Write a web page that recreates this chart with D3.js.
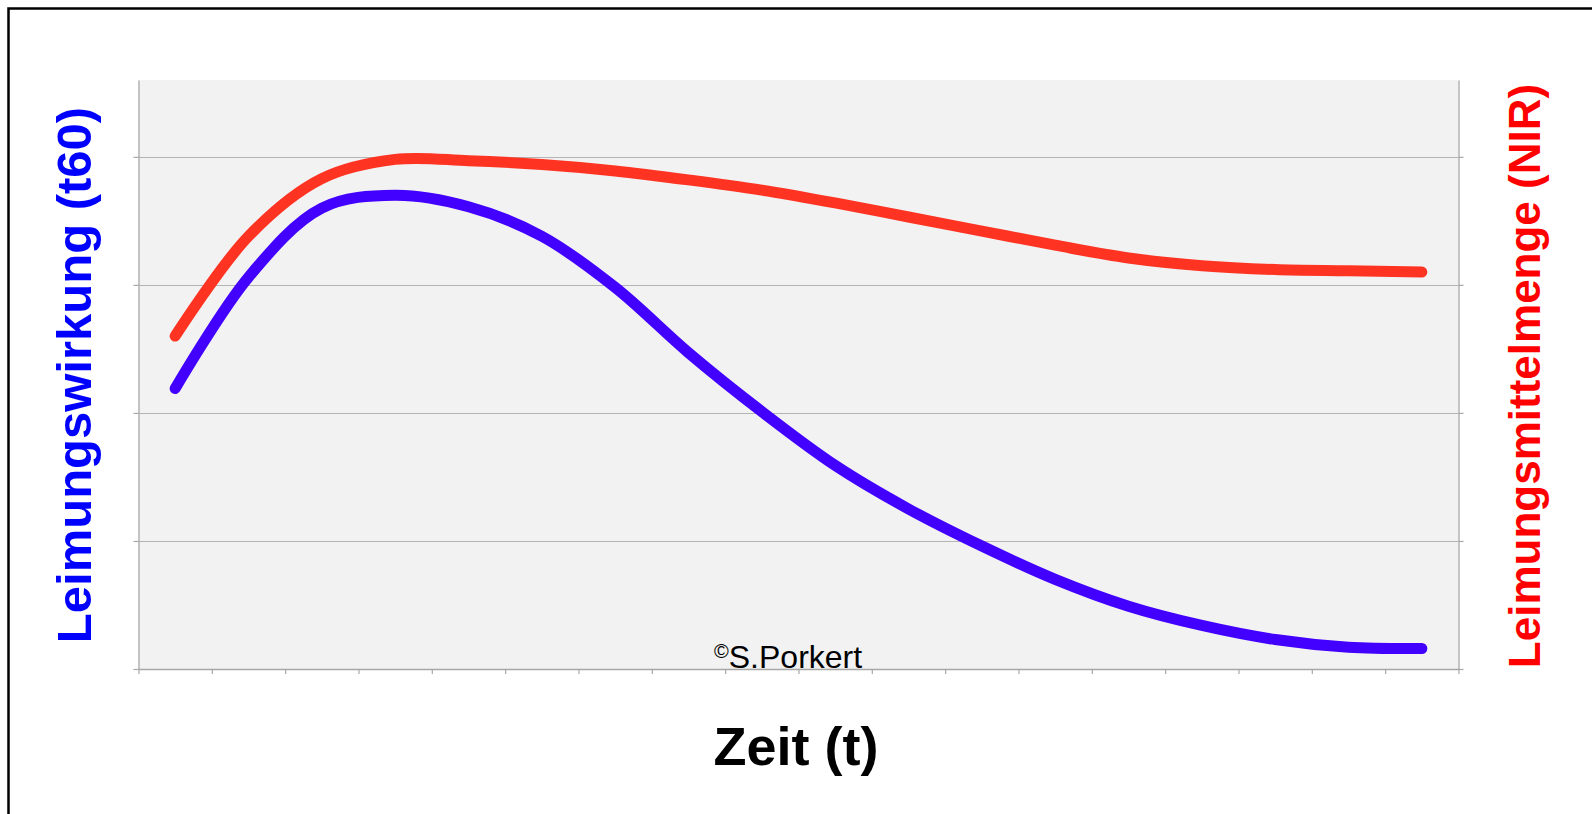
<!DOCTYPE html>
<html>
<head>
<meta charset="utf-8">
<script src="https://cdn.jsdelivr.net/npm/d3@7/dist/d3.min.js"></script>
<style>
  html, body { margin: 0; padding: 0; background: #fff; }
  svg { display: block; font-family: "Liberation Sans", Arial, sans-serif; }
</style>
</head>
<body>
<svg id="chart" width="1592" height="814"></svg>
<script>
// Time steps along the x axis (no labels are printed)
const periods = ["1","2","3","4","5","6","7","8","9","10","11","12","13","14","15","16","17","18"];

// Sizing effect t60 (left axis, blue)
const sizingEffect = [2.19, 3.06, 3.60, 3.70, 3.61, 3.38, 2.98, 2.47, 2.01, 1.59, 1.25, 0.96, 0.70, 0.49, 0.34, 0.23, 0.17, 0.16];

// Amount of sizing agent, NIR (right axis, red)
const sizingAmount = [2.60, 3.38, 3.83, 3.98, 3.97, 3.94, 3.89, 3.82, 3.74, 3.64, 3.53, 3.42, 3.31, 3.21, 3.15, 3.12, 3.11, 3.10];

// Unlabelled value ticks shared by both axes
const yTicks = [0, 1, 2, 3, 4];
const yMax = 4.6;

const labels = {
  left: "Leimungswirkung (t60)",
  right: "Leimungsmittelmenge (NIR)",
  x: "Zeit (t)",
  credit: "S.Porkert"
};

const svg = d3.select("#chart");
const plot = { left: 138.5, right: 1458.5, top: 80, bottom: 669 };

// Outer frame (runs off the right and bottom edges of the page)
svg.append("path")
  .attr("d", `M8.5,814 V8.5 H1592`)
  .attr("fill", "none")
  .attr("stroke", "#000")
  .attr("stroke-width", 2.5);

const x = d3.scaleBand().domain(periods).range([plot.left, plot.right]);
const xEdges = d3.scaleLinear().domain([0, periods.length]).range([plot.left, plot.right]);
const yLeft = d3.scaleLinear().domain([0, yMax]).range([plot.bottom, plot.top]);
const yRight = d3.scaleLinear().domain([0, yMax]).range([plot.bottom, plot.top]);

// Plot background
svg.append("rect")
  .attr("x", plot.left).attr("y", plot.top)
  .attr("width", plot.right - plot.left).attr("height", plot.bottom - plot.top)
  .attr("fill", "#f2f2f2");

// Horizontal gridlines
svg.append("g")
  .selectAll("line")
  .data(yTicks.filter(d => d > 0))
  .join("line")
  .attr("x1", plot.left).attr("x2", plot.right)
  .attr("y1", d => Math.round(yLeft(d)) + 0.5)
  .attr("y2", d => Math.round(yLeft(d)) + 0.5)
  .attr("stroke", "#b4b4b4")
  .attr("stroke-width", 1.2);

const axisColor = "#a8a8a8";
function styleAxis(g) {
  g.selectAll("path.domain").attr("stroke", axisColor).attr("stroke-width", 1.3);
  g.selectAll(".tick line").attr("stroke", axisColor).attr("stroke-width", 1.2);
  g.selectAll(".tick text").remove();
}

// Left value axis
svg.append("g")
  .attr("transform", `translate(${plot.left},0)`)
  .call(d3.axisLeft(yLeft).tickValues(yTicks).tickSize(5).tickSizeOuter(0).tickFormat(""))
  .call(styleAxis);

// Right value axis
svg.append("g")
  .attr("transform", `translate(${plot.right},0)`)
  .call(d3.axisRight(yRight).tickValues(yTicks).tickSize(5).tickSizeOuter(0).tickFormat(""))
  .call(styleAxis);

// Category axis with ticks on the band edges
svg.append("g")
  .attr("transform", `translate(0,${plot.bottom})`)
  .call(d3.axisBottom(xEdges).ticks(periods.length).tickSize(5).tickSizeOuter(0).tickFormat(""))
  .call(styleAxis);

const cx = d => x(d) + x.bandwidth() / 2;

const lineLeft = d3.line()
  .x((d, i) => cx(periods[i]))
  .y(d => yLeft(d))
  .curve(d3.curveCatmullRom.alpha(0.5));

const lineRight = d3.line()
  .x((d, i) => cx(periods[i]))
  .y(d => yRight(d))
  .curve(d3.curveCatmullRom.alpha(0.5));

svg.append("path")
  .datum(sizingEffect)
  .attr("d", lineLeft)
  .attr("fill", "none")
  .attr("stroke", "#4200ff")
  .attr("stroke-width", 11)
  .attr("stroke-linecap", "round")
  .attr("stroke-linejoin", "round");

svg.append("path")
  .datum(sizingAmount)
  .attr("d", lineRight)
  .attr("fill", "none")
  .attr("stroke", "#ff3322")
  .attr("stroke-width", 11)
  .attr("stroke-linecap", "round")
  .attr("stroke-linejoin", "round");

// Copyright note inside the plot
const credit = svg.append("text")
  .attr("x", 714).attr("y", 668)
  .attr("fill", "#000")
  .attr("font-size", 32);
credit.append("tspan").attr("font-size", 20).attr("dy", -10).text("©");
credit.append("tspan").attr("dy", 10).text(labels.credit);

// Axis titles
svg.append("text")
  .attr("transform", `translate(91,375) rotate(-90)`)
  .attr("text-anchor", "middle")
  .attr("font-weight", "bold")
  .attr("font-size", 49)
  .attr("fill", "#0000ff")
  .text(labels.left);

svg.append("text")
  .attr("transform", `translate(1540,376) rotate(-90)`)
  .attr("text-anchor", "middle")
  .attr("font-weight", "bold")
  .attr("font-size", 44)
  .attr("fill", "#ff0000")
  .text(labels.right);

svg.append("text")
  .attr("x", 796).attr("y", 765)
  .attr("text-anchor", "middle")
  .attr("font-weight", "bold")
  .attr("font-size", 54)
  .attr("fill", "#000")
  .text(labels.x);
</script>
</body>
</html>
